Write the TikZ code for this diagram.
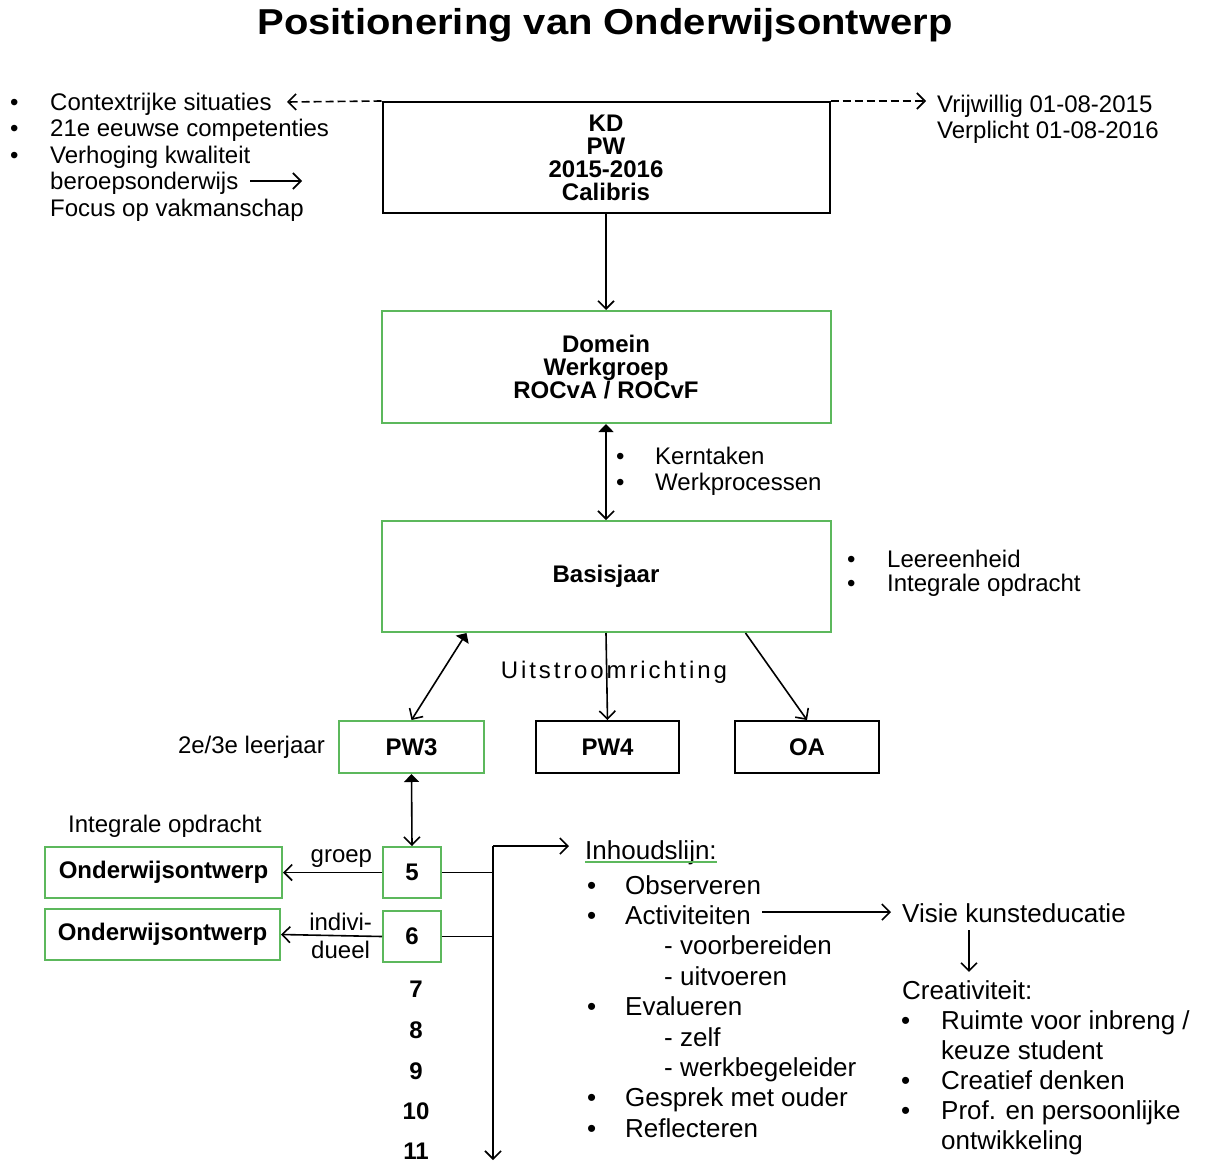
\documentclass[tikz,border=0pt]{standalone}
\usepackage{fontspec}
\setmainfont{Liberation Sans}
\usetikzlibrary{positioning,arrows.meta,calc}
\definecolor{boxgreen}{RGB}{92,184,92}
\tikzstyle{kbox}=[rectangle, draw=black, line width=2pt, inner sep=0pt,
                  align=center, font=\bfseries\fontsize{24}{23}\selectfont]
\tikzstyle{gbox}=[kbox, draw=boxgreen]
\tikzstyle{lst}=[inner sep=0pt, anchor=base west, font=\fontsize{24}{26.5}\selectfont]
\tikzstyle{pline}=[-{Straight Barb[length=8pt,width=16pt]}, line width=1.6pt]
\tikzstyle{dline}=[{Triangle[length=8pt,width=15pt]}-{Straight Barb[length=8pt,width=16pt]}, line width=1.6pt]
\tikzstyle{dashline}=[pline, dash pattern=on 8pt off 4pt]
\newcommand{\bul}[1][40pt]{\makebox[#1][l]{\textbullet}}

\begin{document}
\begin{tikzpicture}[x=1pt, y=-1pt]
\useasboundingbox (0,0) rectangle (1205,1162);

\node (title) [anchor=base, inner sep=0pt, font=\bfseries\fontsize{36}{40}\selectfont]
  at (605,34) {\scalebox{1.11}[1]{Positionering van Onderwijsontwerp}};

% main column
\node (KD) [kbox, minimum width=447pt, minimum height=111pt] at (606,157.5)
  {KD\\PW\\2015-2016\\Calibris};
\node (DOM) [gbox, minimum width=449pt, minimum height=112pt, below=96pt of KD]
  {Domein\\Werkgroep\\ROCvA / ROCvF};
\node (BAS) [gbox, minimum width=449pt, minimum height=111pt, below=96pt of DOM]
  {Basisjaar};
\node (PW3) [gbox, minimum width=145pt, minimum height=52pt] at (411.5,747) {PW3};
\node (PW4) [kbox, minimum width=143pt, minimum height=52pt, right=50pt of PW3] {PW4};
\node (OA) [kbox, minimum width=144pt, minimum height=52pt, right=54pt of PW4] {OA};
\node (N5) [gbox, minimum width=58pt, minimum height=51pt] at (412,872.5) {5};
\node (N6) [gbox, minimum width=58pt, minimum height=51pt, below=11pt of N5] {6};
\node (OW1) [gbox, minimum width=237pt, minimum height=51pt] at (163.5,872.5) {Onderwijsontwerp};
\node (OW2) [gbox, minimum width=235pt, minimum height=51pt] at (162.5,934.5) {Onderwijsontwerp};
\foreach \n/\y in {7/989,8/1030,9/1071,10/1111,11/1151}
  \node (N\n) [inner sep=0pt, font=\bfseries\fontsize{24}{24}\selectfont] at (416,\y) {\n};

% texts
\node (CTX) [lst] at (10,110) {\begin{tabular}[t]{@{}l@{}}
  \bul Contextrijke situaties\\
  \bul 21e eeuwse competenties\\
  \bul Verhoging kwaliteit\\
  \hspace*{40pt}beroepsonderwijs\\
  \hspace*{40pt}Focus op vakmanschap
  \end{tabular}};
\node (VRIJ) [lst, font=\fontsize{24}{26}\selectfont] at (937,112) {\begin{tabular}[t]{@{}l@{}}
  Vrijwillig 01-08-2015\\
  Verplicht 01-08-2016
  \end{tabular}};
\node (KERN) [lst, font=\fontsize{24}{26}\selectfont] at (616,464) {\begin{tabular}[t]{@{}l@{}}
  \bul[39pt]Kerntaken\\
  \bul[39pt]Werkprocessen
  \end{tabular}};
\node (LEER) [lst, font=\fontsize{24}{23}\selectfont] at (847,567) {\begin{tabular}[t]{@{}l@{}}
  \bul Leereenheid\\
  \bul Integrale opdracht
  \end{tabular}};
\node (UIT) [inner sep=0pt, font=\fontsize{24}{26}\selectfont\addfontfeature{LetterSpace=12}]
  at (614,672) {Uitstroomrichting};
\node (JAAR) [inner sep=0pt, font=\fontsize{24}{26}\selectfont, left=13pt of PW3] {2e/3e leerjaar};
\node (INTEG) [lst] at (68,832.5) {Integrale opdracht};
\node (INH) [lst, font=\fontsize{26}{30}\selectfont] at (585,859) {Inhoudslijn:};
\node (INHL) [lst, font=\fontsize{26}{30.4}\selectfont] at (587,894) {\begin{tabular}[t]{@{}l@{}}
  \bul[38pt]Observeren\\
  \bul[38pt]Activiteiten\\
  \hspace*{77pt}- voorbereiden\\
  \hspace*{77pt}- uitvoeren\\
  \bul[38pt]Evalueren\\
  \hspace*{77pt}- zelf\\
  \hspace*{77pt}- werkbegeleider\\
  \bul[38pt]Gesprek met ouder\\
  \bul[38pt]Reflecteren
  \end{tabular}};
\node (VISIE) [lst, font=\fontsize{26}{30}\selectfont] at (902,922) {Visie kunsteducatie};
\node (CREA) [lst, font=\fontsize{26}{30}\selectfont] at (902,999) {Creativiteit:};
\node (CREAL) [lst, font=\fontsize{26}{30.2}\selectfont] at (901,1029) {\begin{tabular}[t]{@{}l@{}}
  \bul Ruimte voor inbreng /\\
  \hspace*{40pt}keuze student\\
  \bul Creatief denken\\
  \bul Prof. en persoonlijke\\
  \hspace*{40pt}ontwikkeling
  \end{tabular}};

\coordinate (ctxtip) at (287,102);
\coordinate (bo1) at (250,181);
\coordinate (bo2) at (302,181);
\coordinate (act) at (762,912);
\coordinate (vdown) at (969,930);
\coordinate (sp) at (493,846);
\coordinate (spend) at (493,1160);

% connectors
\draw[dashline] (KD.north west) -- (ctxtip);
\draw[dashline, shorten >=11pt] (KD.north east) -- (KD.north east -| VRIJ.west);
\draw[pline] (bo1) -- (bo2);
\draw[pline] (KD.south) -- (KD.south |- DOM.north);
\draw[dline] (DOM.south) -- (BAS.north);
\draw[dline] ($(BAS.south west)+(86,0)$) -- (PW3.north);
\draw[pline] (BAS.south) -- (PW4.north);
\draw[pline] ($(BAS.south east)+(-86,0)$) -- (OA.north);
\draw[dline] (PW3.south) -- (N5.north);
\draw[pline] (N5.west) -- node[above=1pt, font=\fontsize{24}{26}\selectfont, pos=0.41] {groep} (OW1.east);
\draw[pline] (N6.west) -- node[above=1pt, font=\fontsize{24}{26}\selectfont, pos=0.41] {indivi-}
  node[below=1pt, font=\fontsize{24}{26}\selectfont, pos=0.41] {dueel} (OW2.east);
\draw[line width=1.6pt] (N5.east) -- (N5.east -| sp);
\draw[line width=1.6pt] (N6.east) -- (N6.east -| sp);
\draw[pline] (sp) -- (spend);
\draw[pline, shorten >=16pt] (sp) -- (sp -| INH.west);
\draw[boxgreen, line width=1.5pt] ([yshift=-3pt]INH.base west) -- ([yshift=-3pt]INH.base east);
\draw[pline, shorten >=11pt] (act) -- (act -| VISIE.west);
\draw[pline, shorten >=8pt] (vdown) -- (vdown |- CREA.north);

\end{tikzpicture}
\end{document}
